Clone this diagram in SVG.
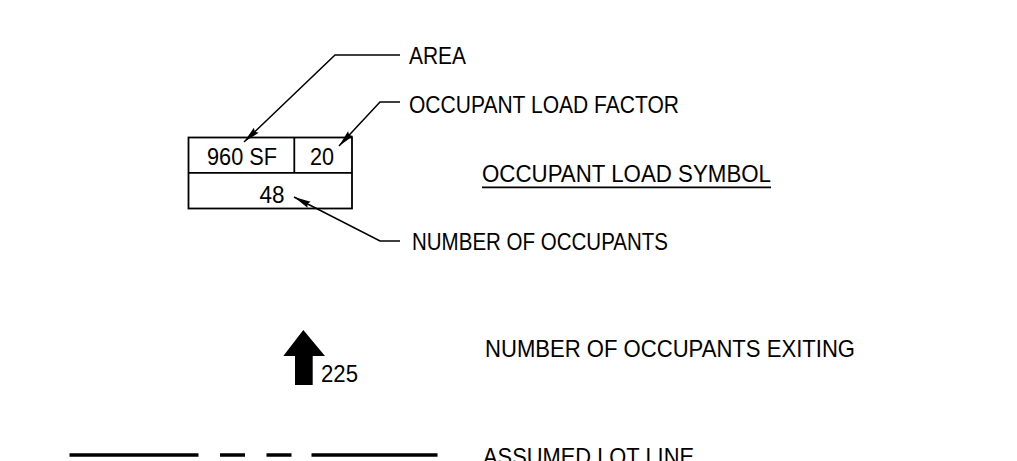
<svg xmlns="http://www.w3.org/2000/svg" width="1017" height="461" viewBox="0 0 1017 461">
<style>
  text { font-family: "Liberation Sans", Arial, sans-serif; font-size: 24px; fill: #000; }
  .line { fill: none; stroke: #000; stroke-width: 1.5; }
  .box { fill: none; stroke: #000; stroke-width: 1.8; }
  .lot { stroke: #000; stroke-width: 3.5; fill: none; }
</style>
<defs>
  <marker id="ah" viewBox="-18 -5 20 10" refX="0" refY="0" markerWidth="20" markerHeight="10" markerUnits="userSpaceOnUse" orient="auto">
    <path d="M0,0 L-17,-3.5 L-15,0 L-17,3.5 Z" fill="#000"/>
  </marker>
</defs>
<rect width="1017" height="461" fill="#fff"/>

<g id="connectors">
  <polyline class="line" points="400,55 335,55 244,142" marker-end="url(#ah)"/>
  <polyline class="line" points="400,102 380,102 339,146" marker-end="url(#ah)"/>
  <polyline class="line" points="400,241 380,241 294,197" marker-end="url(#ah)"/>
</g>

<g id="symbol-box">
  <rect class="box" x="188.5" y="137.5" width="163.5" height="71"/>
  <line class="box" x1="188.5" y1="172.8" x2="352" y2="172.8"/>
  <line class="box" x1="294.3" y1="137.5" x2="294.3" y2="172.8"/>
  <text x="207" y="165" textLength="70" lengthAdjust="spacingAndGlyphs">960 SF</text>
  <text x="310" y="165" textLength="24" lengthAdjust="spacingAndGlyphs">20</text>
  <text x="259.5" y="203" textLength="25" lengthAdjust="spacingAndGlyphs">48</text>
</g>

<g id="label-area">
  <text x="409" y="64" textLength="57" lengthAdjust="spacingAndGlyphs">AREA</text>
</g>
<g id="label-olf">
  <text x="409" y="112.5" textLength="270" lengthAdjust="spacingAndGlyphs">OCCUPANT LOAD FACTOR</text>
</g>
<g id="label-occupants">
  <text x="412" y="250" textLength="256" lengthAdjust="spacingAndGlyphs">NUMBER OF OCCUPANTS</text>
</g>
<g id="title-symbol">
  <text x="482" y="181.5" textLength="289" lengthAdjust="spacingAndGlyphs">OCCUPANT LOAD SYMBOL</text>
  <line x1="482" y1="187.3" x2="771" y2="187.3" stroke="#000" stroke-width="1.8"/>
</g>

<g id="exit-arrow">
  <polygon points="303.3,330 325,356 312.7,356 312.7,385 295,385 295,356 283.3,356" fill="#000"/>
  <text x="321" y="381.5" textLength="37" lengthAdjust="spacingAndGlyphs">225</text>
</g>
<g id="label-exiting">
  <text x="485" y="356.5" textLength="370" lengthAdjust="spacingAndGlyphs">NUMBER OF OCCUPANTS EXITING</text>
</g>

<g id="lot-line">
  <line class="lot" x1="69.5" y1="455" x2="198.5" y2="455"/>
  <line class="lot" x1="220" y1="455" x2="245" y2="455"/>
  <line class="lot" x1="266.5" y1="455" x2="291.5" y2="455"/>
  <line class="lot" x1="311.5" y1="455" x2="437.5" y2="455"/>
</g>
<g id="label-lot">
  <text x="483" y="464.5" textLength="211" lengthAdjust="spacingAndGlyphs">ASSUMED LOT LINE</text>
</g>
</svg>
